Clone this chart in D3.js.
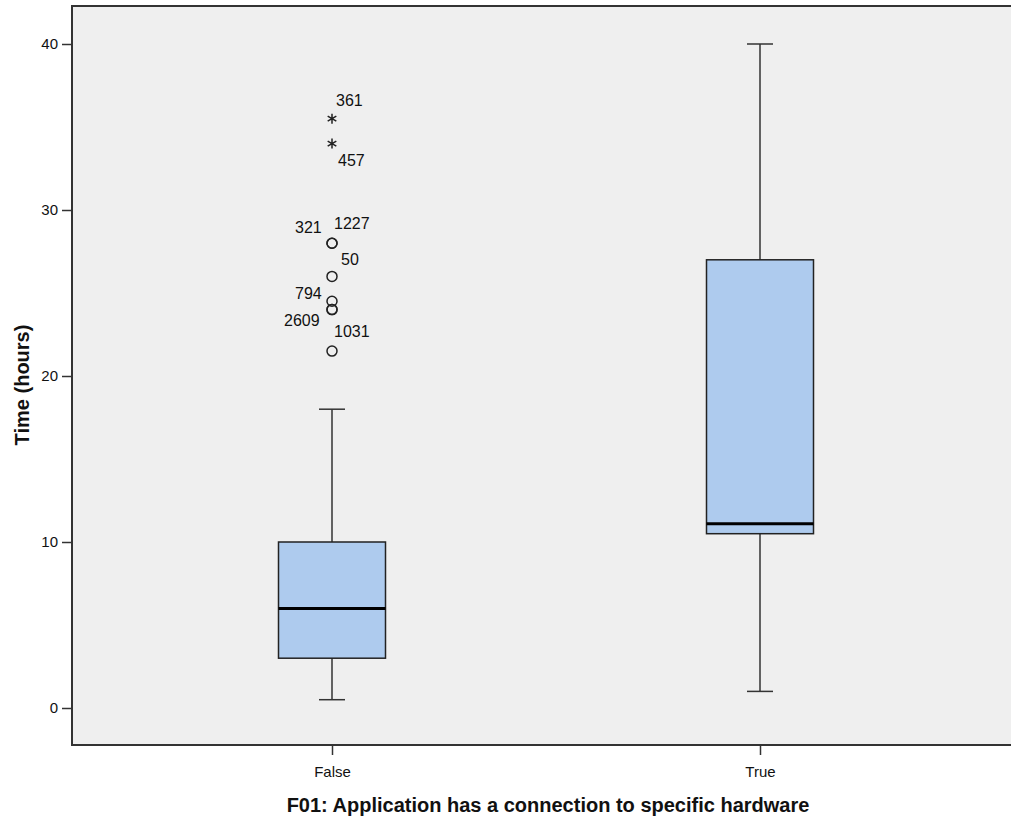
<!DOCTYPE html>
<html>
<head>
<meta charset="utf-8">
<script src="https://cdn.jsdelivr.net/npm/d3@7"></script>
<style>
  body { margin: 0; background: #fff; }
  text { font-family: "Liberation Sans", Arial, sans-serif; fill: #111; }
</style>
</head>
<body>
<div id="chart"></div>
<script>
// box summaries
var groups = ["False", "True"];
var whiskerLow  = [0.5, 1];
var q1          = [3, 10.5];
var medians     = [6, 11.1];
var q3          = [10, 27];
var whiskerHigh = [18, 40];

// outliers (all in the False group)
var outlierGroup = ["False", "False", "False", "False", "False", "False", "False", "False", "False"];
var outlierValue = [35.5, 34, 28, 28, 26, 24.5, 24, 24, 21.5];
var outlierCase  = ["361", "457", "321", "1227", "50", "794", "2609", "", "1031"];
var outlierExtreme = [true, true, false, false, false, false, false, false, false];

var yTicks = [0, 10, 20, 30, 40];

// label placement around each point (layout only)
var labelDx = [4, 6, -37, 2, 9, -37, -48, 0, 2];
var labelDy = [-13, 22, -10, -14, -11, -2, 16, 0, -14];

var width = 1011, height = 820;
var margin = {top: 6, right: 0, bottom: 75, left: 72};

var svg = d3.select("#chart").append("svg")
    .attr("width", width)
    .attr("height", height);

var y = d3.scaleLinear()
    .domain([0, 40])
    .range([708, 44]);

var x = d3.scalePoint()
    .domain(groups)
    .range([332, 760]);

var boxW = 107, capW = 26;

// plot background
svg.append("rect")
    .attr("x", margin.left)
    .attr("y", margin.top)
    .attr("width", width - margin.left + 5)
    .attr("height", height - margin.bottom - margin.top)
    .attr("fill", "#efefef")
    .attr("stroke", "#333")
    .attr("stroke-width", 2);

// y axis
var yAxis = svg.append("g")
    .attr("transform", "translate(" + margin.left + ",0)")
    .call(d3.axisLeft(y).tickValues(yTicks).tickSize(10).tickPadding(4).tickFormat(d3.format("d")));
yAxis.select(".domain").remove();
yAxis.selectAll("line").attr("stroke", "#333").attr("stroke-width", 1.5);
yAxis.selectAll("text").attr("font-size", "15px").attr("fill", "#111")
    .attr("font-family", "Liberation Sans, Arial, sans-serif");

// x axis
var xAxis = svg.append("g")
    .attr("transform", "translate(0," + (height - margin.bottom) + ")")
    .call(d3.axisBottom(x).tickSize(10).tickPadding(11));
xAxis.select(".domain").remove();
xAxis.selectAll("line").attr("stroke", "#333").attr("stroke-width", 1.5);
xAxis.selectAll("text").attr("font-size", "15px").attr("fill", "#111")
    .attr("font-family", "Liberation Sans Narrow, Liberation Sans, Arial, sans-serif");

// whiskers and boxes
groups.forEach(function(g, i) {
    var cx = x(g);
    svg.append("line")
        .attr("x1", cx).attr("x2", cx)
        .attr("y1", y(whiskerHigh[i])).attr("y2", y(whiskerLow[i]))
        .attr("stroke", "#333").attr("stroke-width", 1.5);
    [whiskerLow[i], whiskerHigh[i]].forEach(function(v) {
        svg.append("line")
            .attr("x1", cx - capW / 2).attr("x2", cx + capW / 2)
            .attr("y1", y(v)).attr("y2", y(v))
            .attr("stroke", "#333").attr("stroke-width", 1.5);
    });
    svg.append("rect")
        .attr("x", cx - boxW / 2)
        .attr("y", y(q3[i]))
        .attr("width", boxW)
        .attr("height", y(q1[i]) - y(q3[i]))
        .attr("fill", "#aecbee")
        .attr("stroke", "#222")
        .attr("stroke-width", 1.5);
    svg.append("line")
        .attr("x1", cx - boxW / 2).attr("x2", cx + boxW / 2)
        .attr("y1", y(medians[i])).attr("y2", y(medians[i]))
        .attr("stroke", "#000").attr("stroke-width", 3);
});

// outliers
var star = d3.symbol().type(d3.symbolAsterisk).size(70);
outlierValue.forEach(function(v, i) {
    var cx = x(outlierGroup[i]), cy = y(v);
    if (outlierExtreme[i]) {
        svg.append("path")
            .attr("d", star())
            .attr("transform", "translate(" + cx + "," + cy + ")")
            .attr("fill", "none").attr("stroke", "#222").attr("stroke-width", 1.5);
    } else {
        svg.append("circle")
            .attr("cx", cx).attr("cy", cy).attr("r", 5)
            .attr("fill", "none").attr("stroke", "#222").attr("stroke-width", 1.5);
    }
    if (outlierCase[i]) {
        svg.append("text")
            .attr("x", cx + labelDx[i]).attr("y", cy + labelDy[i])
            .attr("font-size", "16px")
            .text(outlierCase[i]);
    }
});

// axis titles
svg.append("text")
    .attr("transform", "translate(29,385) rotate(-90)")
    .attr("text-anchor", "middle")
    .attr("font-size", "20px")
    .attr("font-weight", "bold")
    .text("Time (hours)");

svg.append("text")
    .attr("x", 548).attr("y", 812)
    .attr("text-anchor", "middle")
    .attr("font-size", "20px")
    .attr("font-weight", "bold")
    .text("F01: Application has a connection to specific hardware");
</script>
</body>
</html>
